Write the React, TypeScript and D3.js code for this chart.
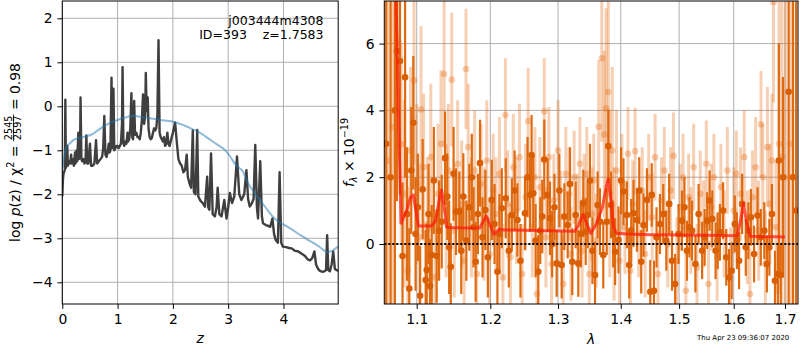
import * as d3 from 'd3';
import React, { useRef, useEffect } from 'react';

const font = "DejaVu Sans";
const sp = "\u00a0";

// left panel: log p(z)
const pzCurve: [number, number][] = [
  [0.0, -2.05], [0.01, -1.7], [0.02, -1.55], [0.03, -1.5], [0.045, -1.45], [0.055, 0.15], [0.065, -1.4],
  [0.08, -1.3], [0.09, -0.9], [0.1, -1.35], [0.12, -1.25], [0.14, -1.3], [0.16, -1.1], [0.17, -1.3],
  [0.19, -1.2], [0.21, -1.35], [0.23, -1.05], [0.24, -1.3], [0.26, -1.0], [0.27, -1.25], [0.29, -0.6],
  [0.3, -1.2], [0.31, -0.8], [0.32, -1.15], [0.33, 0.2], [0.345, -1.2], [0.36, -1.25], [0.38, -1.2],
  [0.4, -1.3], [0.42, -1.25], [0.435, -0.66], [0.45, -1.3], [0.47, -1.3], [0.5, -0.85], [0.52, -1.35],
  [0.55, -1.35], [0.58, -1.3], [0.61, -0.77], [0.63, -1.3], [0.66, -1.25], [0.69, -1.2], [0.72, -1.15],
  [0.74, -0.95], [0.76, -0.22], [0.78, -1.1], [0.8, -1.15], [0.82, -1.05], [0.84, -0.85], [0.855, -1.05],
  [0.87, -1.0], [0.89, 0.65], [0.905, -0.95], [0.925, 0.4], [0.94, -1.0], [0.96, -0.95], [0.98, -0.9],
  [1.0, -0.9], [1.02, -0.95], [1.04, -0.9], [1.06, -0.85], [1.08, -0.4], [1.09, 0.89], [1.105, -0.85],
  [1.12, -0.9], [1.14, -0.8], [1.16, -0.85], [1.18, -0.6], [1.19, -0.8], [1.21, -0.75], [1.23, -0.5],
  [1.25, 0.3], [1.265, -0.7], [1.28, -0.75], [1.3, 0.12], [1.315, -0.65], [1.34, -0.6], [1.36, -0.7],
  [1.38, -0.7], [1.4, -0.75], [1.42, -0.6], [1.44, -0.3], [1.46, 0.27], [1.48, -0.4], [1.5, -0.2],
  [1.51, 0.76], [1.525, -0.1], [1.545, 0.2], [1.56, -0.5], [1.58, -0.7], [1.6, -0.75], [1.62, -0.72],
  [1.64, -0.6], [1.66, -0.5], [1.68, -0.55], [1.7, -0.5], [1.72, -0.2], [1.74, 1.5], [1.76, -0.6],
  [1.78, -0.7], [1.8, -0.75], [1.82, -0.8], [1.84, -0.7], [1.86, -0.9], [1.88, -0.85], [1.9, -0.6],
  [1.92, -0.85], [1.94, -0.9], [1.96, -0.8], [1.98, -0.7], [2.0, -0.6], [2.04, -0.37], [2.07, -0.8],
  [2.1, -1.2], [2.13, -1.3], [2.16, -1.35], [2.19, -1.5], [2.22, -1.45], [2.25, -1.1], [2.27, -1.6],
  [2.3, -1.75], [2.33, -1.85], [2.36, -0.55], [2.38, -1.95], [2.41, -2.0], [2.44, -0.54], [2.46, -2.05],
  [2.5, -2.15], [2.54, -2.2], [2.58, -2.28], [2.62, -1.6], [2.64, -2.3], [2.66, -2.35], [2.69, -1.07],
  [2.72, -2.45], [2.76, -2.5], [2.79, -2.3], [2.81, -1.85], [2.84, -2.45], [2.88, -2.5], [2.93, -2.13],
  [2.97, -2.55], [3.0, -2.3], [3.03, -1.97], [3.07, -2.2], [3.11, -2.05], [3.16, -1.14], [3.2, -2.0],
  [3.24, -2.13], [3.29, -2.0], [3.33, -1.45], [3.36, -2.1], [3.39, -2.28], [3.43, -2.2], [3.46, -2.1],
  [3.49, -0.88], [3.52, -2.3], [3.54, -2.55], [3.58, -1.25], [3.61, -2.5], [3.63, -2.66], [3.68, -2.7],
  [3.73, -2.72], [3.76, -2.74], [3.8, -2.55], [3.83, -2.9], [3.86, -3.04], [3.9, -3.1], [3.93, -1.5],
  [3.96, -3.1], [3.99, -3.19], [4.05, -3.2], [4.1, -3.22], [4.15, -3.23], [4.2, -3.28], [4.27, -3.3],
  [4.33, -3.35], [4.39, -3.4], [4.44, -3.48], [4.48, -3.5], [4.52, -3.45], [4.56, -3.3], [4.59, -3.6],
  [4.63, -3.7], [4.66, -3.74], [4.7, -3.76], [4.74, -3.75], [4.77, -3.72], [4.79, -2.93], [4.81, -3.72],
  [4.84, -3.75], [4.87, -3.6], [4.9, -3.3], [4.93, -3.7], [4.96, -3.72], [4.99, -3.74]
];

const pzSmooth: [number, number][] = [
  [0, -1.4], [0.04, -1.1], [0.08, -0.92], [0.14, -0.84], [0.2, -0.77], [0.3, -0.72], [0.38, -0.7],
  [0.47, -0.67], [0.56, -0.62], [0.65, -0.54], [0.74, -0.46], [0.83, -0.4], [0.92, -0.35], [1.0, -0.31],
  [1.1, -0.27], [1.18, -0.24], [1.25, -0.22], [1.33, -0.22], [1.41, -0.24], [1.5, -0.26], [1.59, -0.27],
  [1.68, -0.29], [1.77, -0.31], [1.89, -0.33], [2.01, -0.35], [2.13, -0.4], [2.25, -0.46], [2.35, -0.52],
  [2.46, -0.58], [2.55, -0.65], [2.64, -0.73], [2.79, -0.86], [2.94, -0.99], [3.03, -1.13], [3.12, -1.3],
  [3.2, -1.4], [3.27, -1.49], [3.36, -1.75], [3.48, -1.97], [3.6, -2.17], [3.72, -2.37], [3.84, -2.55],
  [3.96, -2.66], [4.08, -2.74], [4.2, -2.84], [4.32, -2.94], [4.45, -3.04], [4.6, -3.15], [4.7, -3.24],
  [4.78, -3.31], [4.85, -3.3], [4.92, -3.25], [4.99, -3.19]
];

const zTicks = [0, 1, 2, 3, 4];
const logpTicks = [-4, -3, -2, -1, 0, 1, 2];

// right panel: spectrum [wavelength, flux, error]
const specLight: [number, number, number][] = [
  [1.063, 2.5, 9], [1.069, 3.5, 8], [1.0765, 6.05, 3.5], [1.08, 2.99, 3.0], [1.084, 1.5, 2.8],
  [1.0885, -0.8, 2.5], [1.092, 2.8, 2.5], [1.0965, 4.9, 2.5], [1.1, 1.8, 2.4], [1.103, 0.2, 2.2],
  [1.1056, 4.03, 2.5], [1.109, 2.3, 2.2], [1.114, 0.6, 2.0], [1.1185, 2.6, 2.2], [1.124, -1.0, 2.0],
  [1.128, 1.5, 2.1], [1.132, 3.0, 2.2], [1.1362, 5.09, 2.2], [1.139, 1.0, 2.0], [1.142, 2.2, 2.0],
  [1.1465, 4.92, 2.0], [1.15, 0.4, 2.0], [1.1545, 2.4, 1.9], [1.16, 1.2, 1.9], [1.1635, -0.5, 1.8],
  [1.166, 5.24, 1.8], [1.169, 2.9, 1.9], [1.1735, 0.8, 1.8], [1.178, 2.2, 1.8], [1.181, -0.9, 1.7],
  [1.187, 1.8, 1.8], [1.191, 0.6, 1.7], [1.195, 2.5, 1.8], [1.199, -0.3, 1.7], [1.204, 1.6, 1.7],
  [1.208, 0.9, 1.7], [1.213, 2.1, 1.7], [1.218, -1.0, 1.6], [1.2216, 3.86, 1.7], [1.225, 1.2, 1.6],
  [1.229, -0.4, 1.6], [1.233, 2.3, 1.6], [1.2375, 1.0, 1.6], [1.242, 2.6, 1.6], [1.246, -0.9, 1.5],
  [1.251, 1.4, 1.6], [1.2549, 3.68, 1.6], [1.261, 0.5, 1.5], [1.265, 2.0, 1.5], [1.268, -1.5, 1.5],
  [1.2725, 1.7, 1.5], [1.279, 3.97, 1.6], [1.2815, 0.2, 1.5], [1.286, 2.6, 1.5], [1.29, -0.6, 1.5],
  [1.2935, 1.3, 1.4], [1.3, 2.8, 1.5], [1.304, 0.8, 1.4], [1.308, -1.2, 1.4], [1.312, 2.1, 1.4],
  [1.317, 1.5, 1.4], [1.32, -0.3, 1.4], [1.325, 2.0, 1.4], [1.33, 0.7, 1.4], [1.334, 2.4, 1.4],
  [1.3375, -0.2, 1.4], [1.341, 1.3, 1.4], [1.345, 2.1, 1.4], [1.349, -0.9, 1.4], [1.353, 0.9, 1.4],
  [1.356, 1.9, 1.4], [1.36, 0.1, 1.4], [1.364, 3.51, 2.0], [1.369, 5.56, 2.5], [1.373, 3.28, 2.5],
  [1.376, 4.06, 3.0], [1.3796, 4.55, 3.0], [1.382, 1.5, 2.5], [1.386, 2.8, 2.5], [1.389, 0.3, 2.0],
  [1.393, 2.2, 1.8], [1.398, -0.5, 1.5], [1.402, 1.8, 1.5], [1.407, 0.5, 1.4], [1.412, 2.7, 1.4],
  [1.416, -0.8, 1.3], [1.42, 1.2, 1.3], [1.424, 2.78, 1.3], [1.43, 0.3, 1.3], [1.436, 1.6, 1.3],
  [1.441, -0.3, 1.3], [1.447, 2.0, 1.3], [1.453, 0.8, 1.3], [1.458, 2.6, 1.3], [1.463, -0.9, 1.3],
  [1.469, 1.3, 1.3], [1.474, 2.2, 1.3], [1.48, 0.0, 1.3], [1.485, 1.6, 1.3], [1.49, 2.64, 1.3],
  [1.496, -0.5, 1.3], [1.502, 1.1, 1.3], [1.507, 2.0, 1.3], [1.512, -1.4, 1.3], [1.517, 1.4, 1.3],
  [1.521, 0.4, 1.3], [1.526, 2.3, 1.3], [1.532, -0.7, 1.3], [1.538, 1.5, 1.3], [1.544, 0.6, 1.3],
  [1.549, 2.4, 1.3], [1.553, -1.2, 1.3], [1.558, 1.1, 1.3], [1.563, 2.0, 1.3], [1.569, -0.4, 1.3],
  [1.576, 1.7, 1.3], [1.582, 0.3, 1.3], [1.588, 2.2, 1.3], [1.594, -0.8, 1.3], [1.6, 1.0, 1.3],
  [1.605, 2.1, 1.3], [1.613, 1.5, 1.4], [1.62, 2.6, 1.4], [1.626, 0.2, 1.4], [1.631, -1.5, 1.4],
  [1.636, 1.4, 1.4], [1.642, 2.3, 1.5], [1.648, 0.4, 1.5], [1.6525, 3.58, 1.6], [1.656, 2.0, 1.6],
  [1.661, -0.6, 1.6], [1.665, 2.9, 1.8], [1.67, 1.2, 1.8], [1.674, 2.5, 2.0], [1.677, 7.24, 3.0],
  [1.682, 0.5, 2.0], [1.688, 3.0, 4.5], [1.694, 2.6, 5.0], [1.701, 2.0, 6.0], [1.711, 3.0, 10]
];

const specDark: [number, number, number][] = [
  [1.061, 3.0, 12], [1.0665, 2.0, 12], [1.072, 4.0, 12], [1.0745, 5.78, 4.5], [1.0785, 5.48, 4.0],
  [1.0817, -0.36, 2.2], [1.085, 4.99, 3.0], [1.0875, 0.9, 2.0], [1.0904, -1.33, 1.8], [1.093, 2.2, 1.9],
  [1.0956, 3.63, 2.0], [1.0985, 0.3, 1.7], [1.1015, 1.1, 1.6], [1.1045, -1.55, 1.5], [1.1078, 1.64, 1.5],
  [1.1117, -1.08, 1.5], [1.1131, -0.78, 1.4], [1.1155, 0.9, 1.5], [1.1174, -1.26, 1.4], [1.1197, -0.33, 1.5],
  [1.1225, 1.9, 1.6], [1.1263, -0.36, 1.4], [1.1295, 0.4, 1.5], [1.133, 0.67, 1.4], [1.1375, 2.57, 1.4],
  [1.1405, 1.42, 1.3], [1.143, -0.1, 1.4], [1.1452, -0.68, 1.3], [1.149, 2.1, 1.4], [1.1523, 0.97, 1.3],
  [1.1568, 0.97, 1.2], [1.1595, -0.2, 1.3], [1.1623, 1.42, 1.3], [1.1665, 0.1, 1.2], [1.1706, 1.1, 1.3],
  [1.174, 2.0, 1.3], [1.1765, 0.5, 1.2], [1.1794, -0.53, 1.2], [1.1825, 0.9, 1.2], [1.1855, 2.42, 1.3],
  [1.189, 0.2, 1.2], [1.193, 1.02, 1.2], [1.1965, -0.4, 1.2], [1.2021, 1.32, 1.2], [1.206, 0.6, 1.2],
  [1.2101, -0.83, 1.1], [1.213, 0.3, 1.2], [1.2164, 1.07, 1.2], [1.2221, 1.37, 1.2], [1.2265, -0.2, 1.1],
  [1.2309, 0.87, 1.1], [1.235, 1.6, 1.2], [1.2391, 0.72, 1.1], [1.2435, -0.5, 1.1], [1.2502, 0.92, 1.1],
  [1.254, 2.0, 1.2], [1.2576, 1.47, 1.1], [1.26, 2.66, 1.2], [1.2625, 1.52, 1.1], [1.266, 0.1, 1.1],
  [1.27, -0.83, 1.1], [1.273, 0.4, 1.0], [1.276, 0.82, 1.1], [1.279, 2.53, 1.2], [1.2841, 1.47, 1.1],
  [1.2877, 0.77, 1.1], [1.291, 0.0, 1.0], [1.2945, 1.1, 1.0], [1.2979, -0.58, 1.0], [1.302, 1.6, 1.1],
  [1.3056, -0.63, 1.0], [1.3097, 0.82, 1.0], [1.3149, 0.57, 1.0], [1.3185, 1.8, 1.1], [1.3221, -0.53, 1.0],
  [1.3274, 0.87, 1.0], [1.3315, -0.58, 1.0], [1.3355, 0.3, 1.0], [1.3394, 1.22, 1.0], [1.3432, 0.37, 1.0],
  [1.3464, 0.87, 1.0], [1.35, 1.9, 1.1], [1.354, -0.2, 1.0], [1.3581, -0.93, 1.0], [1.3623, 1.17, 1.0],
  [1.366, 0.67, 1.0], [1.3714, -0.33, 1.0], [1.377, 0.67, 1.0], [1.3796, 2.93, 1.1], [1.3841, 1.17, 1.0],
  [1.3875, 0.3, 1.0], [1.3907, -0.23, 1.0], [1.3963, 0.12, 1.0], [1.4005, 1.9, 1.0], [1.4045, 1.57, 1.0],
  [1.4102, 0.87, 1.0], [1.4141, -0.63, 1.0], [1.4175, 0.4, 0.95], [1.4213, 0.92, 1.0], [1.4271, 0.72, 0.95],
  [1.431, 1.6, 1.0], [1.4343, -0.53, 0.95], [1.4382, 0.57, 0.95], [1.4441, 1.32, 0.95], [1.4498, -1.43, 0.95],
  [1.4522, 1.47, 0.95], [1.4561, -1.4, 0.9], [1.4605, 0.2, 0.9], [1.4664, 0.6, 0.9], [1.4722, 0.9, 0.9],
  [1.4775, 0.1, 0.9], [1.4825, 1.2, 0.9], [1.4875, -0.5, 0.9], [1.493, -1.2, 0.9], [1.499, 0.3, 0.9],
  [1.5051, 0.7, 0.9], [1.5095, 1.1, 0.9], [1.514, -0.2, 0.9], [1.5185, 0.5, 0.9], [1.5231, 0.4, 0.9],
  [1.5292, -0.6, 0.85], [1.535, 0.9, 0.9], [1.5414, -0.2, 0.85], [1.546, 0.2, 0.85], [1.5506, 0.7, 0.85],
  [1.555, 1.3, 0.9], [1.56, 0.75, 0.85], [1.5661, -0.2, 0.85], [1.57, 0.1, 0.85], [1.5741, 0.35, 0.85],
  [1.58, 1.0, 0.85], [1.586, -0.4, 0.85], [1.5912, -1.0, 0.85], [1.5962, -0.8, 0.85], [1.602, 0.6, 0.85],
  [1.606, 0.1, 0.85], [1.6102, -0.5, 0.85], [1.616, 1.2, 0.9], [1.623, -0.1, 0.85], [1.628, 0.4, 0.85],
  [1.6327, 0.8, 0.85], [1.639, -0.3, 0.85], [1.6457, 0.85, 0.85], [1.652, 0.2, 0.85], [1.6589, 0.4, 0.85],
  [1.664, -0.6, 0.85], [1.6689, -0.1, 0.85], [1.674, 0.9, 0.9], [1.68, -1.1, 0.9], [1.6857, -0.9, 0.9],
  [1.6877, 2.5, 3.5], [1.6915, -0.93, 0.9], [1.6959, 2.0, 3.0], [1.7073, 4.56, 12], [1.7162, 2.0, 12],
  [1.7225, 1.0, 12]
];

const modelWave = [
  1.069, 1.072, 1.0765, 1.0798, 1.087, 1.092, 1.0956, 1.099, 1.1021, 1.11, 1.1196, 1.125, 1.1295,
  1.1329, 1.1365, 1.1396, 1.15, 1.17, 1.1851, 1.1905, 1.1944, 1.199, 1.2052, 1.2123, 1.22, 1.25, 1.28,
  1.31, 1.3262, 1.333, 1.3392, 1.345, 1.3515, 1.36, 1.37, 1.376, 1.3796, 1.384, 1.388, 1.3934, 1.41,
  1.45, 1.5, 1.55, 1.6065, 1.613, 1.6186, 1.625, 1.6316, 1.65, 1.68, 1.7
];
const modelFlux = [
  20, 9, 4, 0.62, 1.0, 1.4, 1.47, 1.0, 0.54, 0.54, 0.54, 0.7, 1.3,
  1.62, 1.1, 0.5, 0.49, 0.48, 0.48, 0.7, 0.84, 0.6, 0.29, 0.44, 0.42, 0.41, 0.4,
  0.39, 0.38, 0.6, 0.89, 0.6, 0.32, 0.6, 1.1, 1.7, 1.95, 1.3, 0.5, 0.32, 0.3,
  0.28, 0.27, 0.26, 0.25, 0.7, 1.22, 0.6, 0.23, 0.22, 0.22, 0.21
];

const waveTicks = [1.1, 1.2, 1.3, 1.4, 1.5, 1.6, 1.7];
const fluxTicks = [0, 2, 4, 6];

const fieldName = "j003444m4308";
const idLabel = `ID=393${sp}${sp}${sp}${sp}z=1.7583`;
const chiNum = "2545";
const chiDen = "2597";
const chiVal = "0.98";
const stamp = "Thu Apr 23 09:36:07 2020";

function App() {
  const ref = useRef<SVGSVGElement>(null);

  useEffect(() => {
    const svg = d3.select(ref.current);
    svg.selectAll("*").remove();
    svg.attr("font-family", font);

    const grid = "#b0b0b0";

    // ---------- left panel ----------
    const L = { left: 62.3, right: 338.2, top: 1, bottom: 304 };
    const lx = d3.scaleLinear().domain([0, 4.99]).range([L.left, L.right]);
    const ly = d3.scaleLinear().domain([-4.493, 2.393]).range([L.bottom, L.top]);

    svg.append("clipPath").attr("id", "clipL")
      .append("rect").attr("x", L.left).attr("y", L.top)
      .attr("width", L.right - L.left).attr("height", L.bottom - L.top);

    const gl = svg.append("g");
    gl.append("g").attr("stroke", grid).attr("stroke-width", 1)
      .selectAll("line").data(zTicks).join("line")
      .attr("x1", d => lx(d)).attr("x2", d => lx(d)).attr("y1", L.top).attr("y2", L.bottom);
    gl.append("g").attr("stroke", grid).attr("stroke-width", 1)
      .selectAll("line").data(logpTicks).join("line")
      .attr("y1", d => ly(d)).attr("y2", d => ly(d)).attr("x1", L.left).attr("x2", L.right);

    const lline = d3.line<[number, number]>().x(d => lx(d[0])).y(d => ly(d[1]));
    const lplot = gl.append("g").attr("clip-path", "url(#clipL)");
    lplot.append("path").attr("d", lline(pzCurve)).attr("fill", "none")
      .attr("stroke", "#3f3f3f").attr("stroke-width", 2.4).attr("stroke-linejoin", "round");
    lplot.append("path").attr("d", lline.curve(d3.curveMonotoneX)(pzSmooth)).attr("fill", "none")
      .attr("stroke", "#1f77b4").attr("stroke-opacity", 0.5).attr("stroke-width", 2);

    gl.append("rect").attr("x", L.left).attr("y", L.top)
      .attr("width", L.right - L.left).attr("height", L.bottom - L.top)
      .attr("fill", "none").attr("stroke", "black").attr("stroke-width", 1);

    gl.append("g").attr("transform", `translate(0,${L.bottom})`)
      .call(d3.axisBottom(lx).tickValues(zTicks).tickFormat(d3.format("d")).tickSize(4.9).tickPadding(4.9))
      .call(g => g.select(".domain").remove())
      .attr("font-family", font).attr("font-size", 13.9);
    gl.append("g").attr("transform", `translate(${L.left},0)`)
      .call(d3.axisLeft(ly).tickValues(logpTicks).tickFormat(d3.format("d")).tickSize(4.9).tickPadding(4.9))
      .call(g => g.select(".domain").remove())
      .attr("font-family", font).attr("font-size", 13.9);

    gl.append("text").attr("x", 323.5).attr("y", 24.5).attr("text-anchor", "end")
      .attr("font-size", 12.5).text(fieldName);
    gl.append("text").attr("x", 323.5).attr("y", 38.5).attr("text-anchor", "end")
      .attr("font-size", 12.5).text(idLabel);

    gl.append("text").attr("x", (L.left + L.right) / 2).attr("y", 343).attr("text-anchor", "middle")
      .attr("font-size", 13.9).attr("font-style", "italic").text("z");

    // y label with fraction
    const yl = gl.append("g").attr("transform", `translate(19.5,${(L.top + L.bottom) / 2}) rotate(-90)`)
      .attr("font-size", 13.9);
    const inner = yl.append("g");
    const t1 = inner.append("text");
    t1.append("tspan").text(`log${sp}`);
    t1.append("tspan").attr("font-style", "italic").text("p");
    t1.append("tspan").text(`(z)${sp}/${sp}χ`);
    t1.append("tspan").attr("font-size", 9.7).attr("dy", -5.5).text("2");
    t1.append("tspan").attr("dy", 5.5).text(`${sp}=${sp}`);
    const w1 = (t1.node() as SVGTextElement).getComputedTextLength();
    const num = inner.append("text").attr("x", w1 + 1).attr("y", -7.3).attr("font-size", 9.7).text(chiNum);
    inner.append("text").attr("x", w1 + 1).attr("y", 1.6).attr("font-size", 9.7).text(chiDen);
    const wf = (num.node() as SVGTextElement).getComputedTextLength();
    inner.append("line").attr("x1", w1).attr("x2", w1 + wf + 2).attr("y1", -6).attr("y2", -6)
      .attr("stroke", "black").attr("stroke-width", 0.8);
    const t3 = inner.append("text").attr("x", w1 + wf + 2).text(`${sp}=${sp}${chiVal}`);
    const w3 = (t3.node() as SVGTextElement).getComputedTextLength();
    inner.attr("transform", `translate(${-(w1 + wf + 2 + w3) / 2},0)`);

    // ---------- right panel ----------
    const R = { left: 384.3, right: 798, top: 1, bottom: 304 };
    const rx = d3.scaleLog().domain([1.05866, 1.72632]).range([R.left, R.right]);
    const ry = d3.scaleLinear().domain([-1.796, 7.275]).range([R.bottom, R.top]);

    svg.append("clipPath").attr("id", "clipR")
      .append("rect").attr("x", R.left).attr("y", R.top)
      .attr("width", R.right - R.left).attr("height", R.bottom - R.top);

    const gr = svg.append("g");
    gr.append("g").attr("stroke", grid).attr("stroke-width", 1)
      .selectAll("line").data(waveTicks).join("line")
      .attr("x1", d => rx(d)).attr("x2", d => rx(d)).attr("y1", R.top).attr("y2", R.bottom);
    gr.append("g").attr("stroke", grid).attr("stroke-width", 1)
      .selectAll("line").data(fluxTicks).join("line")
      .attr("y1", d => ry(d)).attr("y2", d => ry(d)).attr("x1", R.left).attr("x2", R.right);

    const rplot = gr.append("g").attr("clip-path", "url(#clipR)");
    const orange = "#e66101";

    const light = rplot.append("g");
    light.selectAll("line").data(specLight).join("line")
      .attr("x1", d => rx(d[0])).attr("x2", d => rx(d[0]))
      .attr("y1", d => ry(d[1] - d[2])).attr("y2", d => ry(d[1] + d[2]))
      .attr("stroke", orange).attr("stroke-opacity", 0.3).attr("stroke-width", 3);
    light.selectAll("circle").data(specLight).join("circle")
      .attr("cx", d => rx(d[0])).attr("cy", d => ry(d[1])).attr("r", 3.3)
      .attr("fill", orange).attr("fill-opacity", 0.3);

    const dark = rplot.append("g");
    dark.selectAll("line").data(specDark).join("line")
      .attr("x1", d => rx(d[0])).attr("x2", d => rx(d[0]))
      .attr("y1", d => ry(d[1] - d[2])).attr("y2", d => ry(d[1] + d[2]))
      .attr("stroke", "#df6a10").attr("stroke-width", 2.2);
    dark.selectAll("circle").data(specDark).join("circle")
      .attr("cx", d => rx(d[0])).attr("cy", d => ry(d[1])).attr("r", 3.3)
      .attr("fill", "#d95f02");

    const mline = d3.line<number>().x(i => rx(modelWave[i])).y(i => ry(modelFlux[i]));
    rplot.append("path").attr("d", mline(d3.range(modelWave.length)))
      .attr("fill", "none").attr("stroke", "#ff1a0a").attr("stroke-opacity", 0.72)
      .attr("stroke-width", 3).attr("stroke-linejoin", "round");

    rplot.append("line").attr("x1", R.left).attr("x2", R.right).attr("y1", ry(0)).attr("y2", ry(0))
      .attr("stroke", "black").attr("stroke-width", 2).attr("stroke-dasharray", "2,2");

    gr.append("rect").attr("x", R.left).attr("y", R.top)
      .attr("width", R.right - R.left).attr("height", R.bottom - R.top)
      .attr("fill", "none").attr("stroke", "black").attr("stroke-width", 1);

    gr.append("g").attr("transform", `translate(0,${R.bottom})`)
      .call(d3.axisBottom(rx).tickValues(waveTicks).tickFormat(d3.format(".1f")).tickSize(4.9).tickPadding(4.9))
      .call(g => g.select(".domain").remove())
      .attr("font-family", font).attr("font-size", 13.9);
    gr.append("g").attr("transform", `translate(${R.left},0)`)
      .call(d3.axisLeft(ry).tickValues(fluxTicks).tickFormat(d3.format("d")).tickSize(4.9).tickPadding(4.9))
      .call(g => g.select(".domain").remove())
      .attr("font-family", font).attr("font-size", 13.9);

    gr.append("text").attr("x", rx(Math.sqrt(1.05866 * 1.72632))).attr("y", 344).attr("text-anchor", "middle")
      .attr("font-size", 13.9).attr("font-style", "italic").text("λ");

    const fy = gr.append("text").attr("transform", `translate(353.5,${(R.top + R.bottom) / 2}) rotate(-90)`)
      .attr("text-anchor", "middle").attr("font-size", 13.9);
    fy.append("tspan").attr("font-style", "italic").text("f");
    fy.append("tspan").attr("font-style", "italic").attr("font-size", 9.7).attr("dy", 3).text("λ");
    fy.append("tspan").attr("dy", -3).text(`${sp}×${sp}10`);
    fy.append("tspan").attr("font-size", 9.7).attr("dy", -5.5).text("−19");

    svg.append("text").attr("x", 789.3).attr("y", 340).attr("text-anchor", "end")
      .attr("font-size", 7).text(stamp);
  }, []);

  return (
    <svg ref={ref} width={800} height={350} style={{ position: "absolute", left: 0, top: 0, background: "white" }}>
    </svg>
  );
}

export default App;
